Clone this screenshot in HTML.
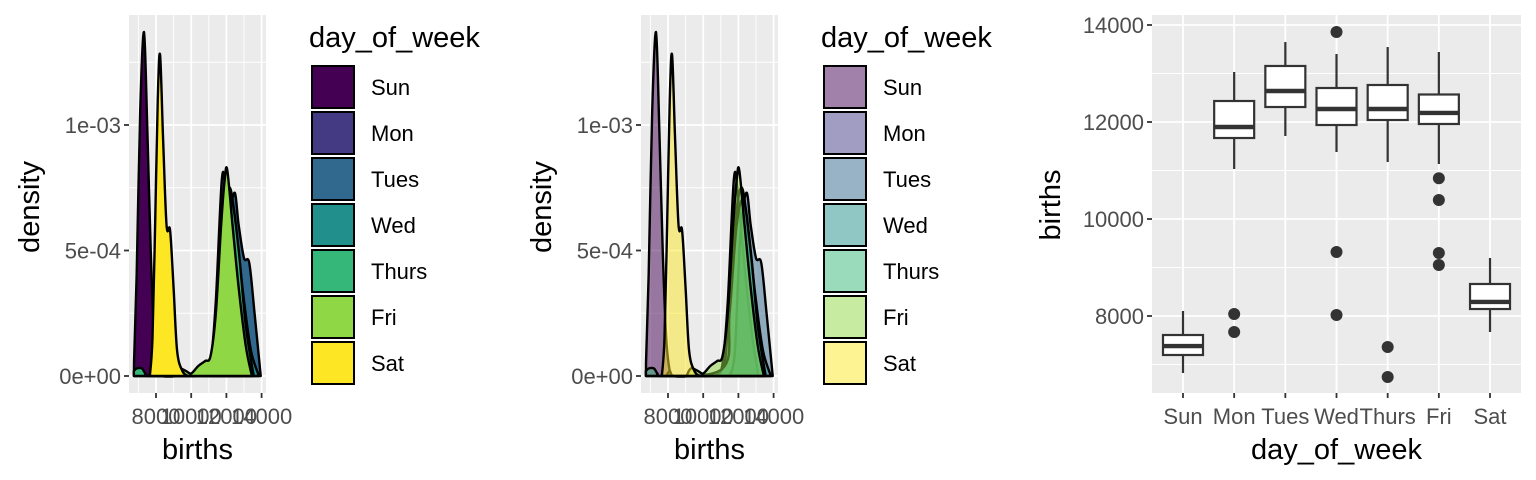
<!DOCTYPE html>
<html><head><meta charset="utf-8"><style>
html,body{margin:0;padding:0;background:#fff;}
svg{display:block;font-family:"Liberation Sans",Arial,sans-serif;}
</style></head><body>
<svg id="c" width="1536" height="480" viewBox="0 0 1536 480"></svg>
<script>
const days = ["Sun","Mon","Tues","Wed","Thurs","Fri","Sat"];
const colors = ["#440154","#443A83","#31688E","#21908C","#35B779","#8FD744","#FDE725"];
const sunX = [6750,6900,7100,7318,7500,7700,7900,8100,8300];
const sunD = [0.00005,0.00040,0.00105,0.00137,0.00100,0.00050,0.00015,0.00002,0];
const monX = [10800,11100,11400,11750,12000,12400,12800,13100];
const monD = [0,0.00005,0.00030,0.00079,0.00070,0.00040,0.00015,0.00002];
const tueX = [11500,11800,12100,12450,12700,13000,13300,13600,13950];
const tueD = [0,0.00010,0.00055,0.00073,0.00060,0.00047,0.00045,0.00025,0];
const wedX = [7900,8100,8300,9200,11000,11400,11800,12200,12600,13000,13400,13850];
const wedD = [0,0.00002,0,0,0.00002,0.00020,0.00060,0.00075,0.00055,0.00030,0.00010,0];
const thuX = [6740,6900,7200,7400,7700,11100,11500,11900,12300,12700,13100,13550];
const thuD = [0.00002,0.00003,0.00003,0.00001,0,0.00003,0.00025,0.00060,0.00070,0.00050,0.00020,0];
const friX = [9050,9300,9700,10000,10400,10800,11100,11400,11700,11900,12050,12350,12700,13100,13450];
const friD = [0,0.00003,0.00002,0.00001,0.00004,0.00006,0.00008,0.00025,0.00060,0.00078,0.00082,0.00060,0.00035,0.00012,0];
const satX = [7650,7800,7950,8100,8230,8400,8600,8800,9000,9200,9500,9800];
const satD = [0,0.00015,0.00060,0.00110,0.00128,0.00095,0.00060,0.00058,0.00035,0.00010,0.00002,0];
const seriesX = [sunX,monX,tueX,wedX,thuX,friX,satX];
const seriesD = [sunD,monD,tueD,wedD,thuD,friD,satD];
const densTicks = [0,0.0005,0.001];
const densTickLabels = ["0e+00","5e-04","1e-03"];
const birthTicks = [8000,10000,12000,14000];
const boxLow  = [6825,11031,11711,11381,11175,11134,7670];
const boxQ1   = [7196,11670,12309,11938,12041,11959,8144];
const boxMed  = [7381,11897,12639,12268,12268,12186,8289];
const boxQ3   = [7608,12433,13155,12701,12763,12567,8660];
const boxHigh = [8103,13031,13649,13402,13546,13443,9196];
const outDay  = [1,1,3,3,3,4,4,5,5,5,5];
const outVal  = [8041,7670,13856,9320,8021,7361,6742,10840,10392,9299,9052];
const boxTicks = [8000,10000,12000,14000];

const TICK=22, TITLE=29;
const NS="http://www.w3.org/2000/svg";
const svg=document.getElementById('c');
function mk(tag,attrs,parent){const e=document.createElementNS(NS,tag);for(const k in attrs)e.setAttribute(k,attrs[k]);(parent||svg).appendChild(e);return e;}
function txt(s,x,y,size,fill,anchor,parent,rot){const t=mk('text',{x:x,y:y,'font-size':size,fill:fill,'text-anchor':anchor||'middle'},parent);if(rot)t.setAttribute('transform','rotate(-90 '+x+' '+y+')');t.textContent=s;return t;}
function smooth(pts){let d='M'+pts[0][0]+','+pts[0][1];for(let i=0;i<pts.length-1;i++){const p0=pts[Math.max(0,i-1)],p1=pts[i],p2=pts[i+1],p3=pts[Math.min(pts.length-1,i+2)];const c1x=p1[0]+(p2[0]-p0[0])/6,c1y=p1[1]+(p2[1]-p0[1])/6,c2x=p2[0]-(p3[0]-p1[0])/6,c2y=p2[1]-(p3[1]-p1[1])/6;d+=' C'+c1x+','+c1y+' '+c2x+','+c2y+' '+p2[0]+','+p2[1];}return d;}

function densityPlot(ox,alpha,name){
  const g=mk('g',{});
  
  
  const L=ox+129,R=ox+266,T=15,B=393;
  const xs=v=>ox+156+(v-8000)*0.0176;
  const ys=v=>376-v*251000;
  const bg=mk('rect',{x:L,y:T,width:R-L,height:B-T,fill:'#EBEBEB'},g);
  
  
  [7000,9000,11000,13000].forEach(v=>mk('line',{x1:xs(v),x2:xs(v),y1:T,y2:B,stroke:'#fff','stroke-width':0.9},g));
  [0.00025,0.00075,0.00125].forEach(v=>mk('line',{x1:L,x2:R,y1:ys(v),y2:ys(v),stroke:'#fff','stroke-width':0.9},g));
  birthTicks.forEach(v=>mk('line',{x1:xs(v),x2:xs(v),y1:T,y2:B,stroke:'#fff','stroke-width':1.8},g));
  densTicks.forEach(v=>mk('line',{x1:L,x2:R,y1:ys(v),y2:ys(v),stroke:'#fff','stroke-width':1.8},g));
  for(let i=0;i<days.length;i++){
    const pts=seriesX[i].map((x,j)=>[xs(x),ys(seriesD[i][j])]);
    const base=ys(0);
    let d=smooth(pts)+' L'+pts[pts.length-1][0]+','+base+' L'+pts[0][0]+','+base+' Z';
    const p=mk('path',{d:d,fill:colors[i],'fill-opacity':alpha,stroke:'#000','stroke-width':2.4,'stroke-linejoin':'round'},g);
    
    
  }
  densTicks.forEach((v,i)=>{mk('line',{x1:L-5,x2:L,y1:ys(v),y2:ys(v),stroke:'#333','stroke-width':1.8},g);
    const t=txt(densTickLabels[i],L-8,ys(v)+8,TICK,'#4D4D4D','end',g);
    });
  birthTicks.forEach(v=>{mk('line',{x1:xs(v),x2:xs(v),y1:B,y2:B+5,stroke:'#333','stroke-width':1.8},g);
    const t=txt(String(v),xs(v),424,TICK,'#4D4D4D','middle',g);
    });
  const xt=txt('births',(L+R)/2,459,TITLE,'#000','middle',g);
  
  const yt=txt('density',ox+39,207,TITLE,'#000','middle',g,true);
  
  const lt=txt('day_of_week',ox+309,47,TITLE,'#000','start',g);
  
  for(let i=0;i<days.length;i++){
    const y=65+i*46;
    mk('rect',{x:ox+312,y:y+1,width:42,height:42,fill:'#fff',stroke:'none'},g);
    const r2=mk('rect',{x:ox+312,y:y+1,width:42,height:42,fill:colors[i],'fill-opacity':alpha,stroke:'#000','stroke-width':2},g);
    
    
    const t=txt(days[i],ox+371,y+30,TICK,'#000','start',g);
    
  }
}
densityPlot(0,1,'density-plot-opaque');
densityPlot(512,0.5,'density-plot-transparent');

(function(){
  const g=mk('g',{});
  
  
  const L=1152,R=1521,T=15,B=393;
  const ys=v=>25+(14000-v)*0.0485;
  const xs=i=>1183+i*51.17;
  const bg=mk('rect',{x:L,y:T,width:R-L,height:B-T,fill:'#EBEBEB'},g);
  
  [7000,9000,11000,13000].forEach(v=>mk('line',{x1:L,x2:R,y1:ys(v),y2:ys(v),stroke:'#fff','stroke-width':0.9},g));
  boxTicks.forEach(v=>mk('line',{x1:L,x2:R,y1:ys(v),y2:ys(v),stroke:'#fff','stroke-width':1.8},g));
  days.forEach((d,i)=>mk('line',{x1:xs(i),x2:xs(i),y1:T,y2:B,stroke:'#fff','stroke-width':1.8},g));
  const hw=20;
  days.forEach((d,i)=>{
    const x=xs(i);
    mk('line',{x1:x,x2:x,y1:ys(boxHigh[i]),y2:ys(boxQ3[i]),stroke:'#333','stroke-width':2.2},g);
    mk('line',{x1:x,x2:x,y1:ys(boxQ1[i]),y2:ys(boxLow[i]),stroke:'#333','stroke-width':2.2},g);
    const r=mk('rect',{x:x-hw,y:ys(boxQ3[i]),width:hw*2,height:ys(boxQ1[i])-ys(boxQ3[i]),fill:'#fff',stroke:'#333','stroke-width':2.2},g);
    
    
    mk('line',{x1:x-hw,x2:x+hw,y1:ys(boxMed[i]),y2:ys(boxMed[i]),stroke:'#333','stroke-width':4.4},g);
    const t=txt(d,x,424,TICK,'#4D4D4D','middle',g);
    
    mk('line',{x1:x,x2:x,y1:B,y2:B+5,stroke:'#333','stroke-width':1.8},g);
  });
  outVal.forEach((v,k)=>{
    const c=mk('circle',{cx:xs(outDay[k]),cy:ys(v),r:6,fill:'#333'},g);
    
    
  });
  boxTicks.forEach(v=>{mk('line',{x1:L-5,x2:L,y1:ys(v),y2:ys(v),stroke:'#333','stroke-width':1.8},g);
    const t=txt(String(v),L-8,ys(v)+8,TICK,'#4D4D4D','end',g);
    });
  const xt=txt('day_of_week',(L+R)/2,459,TITLE,'#000','middle',g);
  
  const yt=txt('births',1060,205,TITLE,'#000','middle',g,true);
  
})();
</script>
</body></html>
